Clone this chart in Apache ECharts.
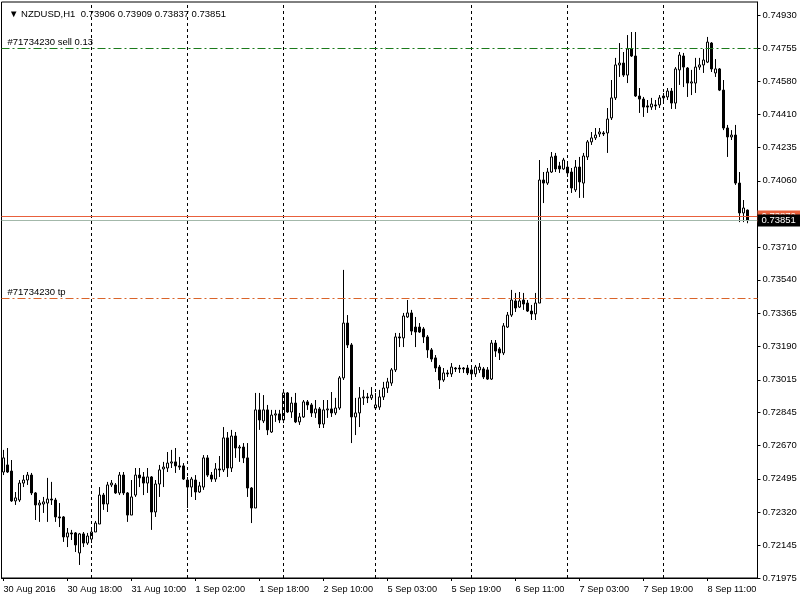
<!DOCTYPE html>
<html><head><meta charset="utf-8">
<script src="https://cdn.jsdelivr.net/npm/echarts@6/dist/echarts.min.js"></script>
<style>html,body{margin:0;padding:0;background:#fff}#c{width:800px;height:600px}</style>
</head><body><div id="c"></div>
<script>
const symbolName = 'NZDUSD,H1';
const year = '2016';
// trading days: [date, first hour, last hour]
const days = [['30 Aug',2,23],['31 Aug',0,23],['1 Sep',0,23],['2 Sep',0,22],['5 Sep',0,23],['6 Sep',0,23],['7 Sep',0,23],['8 Sep',0,21]];
const opens = [
0.72531,0.72568,0.72536,0.72379,0.72384,0.72473,0.72489,0.72515,0.72421,0.72358,
0.72363,0.72368,0.72389,0.72384,0.72295,0.72295,0.72190,0.72211,0.72211,0.72106,
0.72206,0.72158,0.72179,0.72216,0.72258,0.72410,0.72363,0.72463,0.72463,0.72421,
0.72515,0.72421,0.72305,0.72410,0.72515,0.72505,0.72473,0.72505,0.72321,0.72468,
0.72547,0.72552,0.72578,0.72584,0.72563,0.72563,0.72489,0.72452,0.72489,0.72426,
0.72452,0.72605,0.72515,0.72494,0.72547,0.72542,0.72710,0.72552,0.72720,0.72657,
0.72662,0.72605,0.72447,0.72342,0.72857,0.72799,0.72857,0.72741,0.72830,0.72836,
0.72804,0.72946,0.72846,0.72893,0.72794,0.72820,0.72899,0.72883,0.72841,0.72862,
0.72783,0.72857,0.72862,0.72841,0.72867,0.73025,0.73313,0.73198,0.72820,0.72841,
0.72920,0.72925,0.72920,0.72867,0.72872,0.72925,0.72972,0.72998,0.73067,0.73240,
0.73235,0.73345,0.73366,0.73292,0.73292,0.73282,0.73240,0.73172,0.73130,0.73082,
0.73014,0.73051,0.73046,0.73077,0.73077,0.73077,0.73077,0.73067,0.73046,0.73067,
0.73072,0.73067,0.73019,0.73208,0.73177,0.73156,0.73292,0.73355,0.73429,0.73397,
0.73434,0.73418,0.73376,0.73361,0.73418,0.74064,0.74048,0.74106,0.74190,0.74138,
0.74122,0.74132,0.74106,0.74012,0.74132,0.74048,0.74185,0.74264,0.74285,0.74306,
0.74311,0.74311,0.74390,0.74495,0.74668,0.74678,0.74615,0.74752,0.74715,0.74505,
0.74489,0.74453,0.74447,0.74458,0.74458,0.74495,0.74500,0.74531,0.74468,0.74642,
0.74715,0.74652,0.74573,0.74573,0.74657,0.74668,0.74683,0.74783,0.74626,0.74647,
0.74536,0.74337,0.74290,0.74300,0.74048,0.73891,0.73906];
const closes = [
0.72605,0.72531,0.72379,0.72395,0.72473,0.72489,0.72515,0.72421,0.72358,0.72368,
0.72374,0.72389,0.72384,0.72295,0.72290,0.72190,0.72211,0.72206,0.72148,0.72206,
0.72158,0.72195,0.72216,0.72263,0.72410,0.72363,0.72463,0.72473,0.72421,0.72515,
0.72421,0.72305,0.72400,0.72515,0.72500,0.72473,0.72505,0.72321,0.72468,0.72542,
0.72557,0.72578,0.72584,0.72563,0.72557,0.72494,0.72452,0.72494,0.72426,0.72458,
0.72605,0.72515,0.72494,0.72547,0.72542,0.72710,0.72552,0.72720,0.72657,0.72662,
0.72605,0.72447,0.72342,0.72857,0.72804,0.72857,0.72752,0.72830,0.72836,0.72804,
0.72946,0.72846,0.72893,0.72794,0.72820,0.72899,0.72883,0.72841,0.72862,0.72783,
0.72857,0.72862,0.72841,0.72867,0.73025,0.73313,0.73198,0.72820,0.72841,0.72920,
0.72925,0.72920,0.72935,0.72883,0.72925,0.72972,0.73004,0.73067,0.73240,0.73235,
0.73350,0.73366,0.73271,0.73266,0.73266,0.73240,0.73172,0.73124,0.73077,0.73014,
0.73051,0.73046,0.73082,0.73072,0.73072,0.73072,0.73051,0.73046,0.73082,0.73082,
0.73030,0.73019,0.73208,0.73166,0.73156,0.73298,0.73355,0.73434,0.73392,0.73429,
0.73413,0.73376,0.73361,0.73418,0.74064,0.74048,0.74106,0.74185,0.74122,0.74122,
0.74169,0.74101,0.74022,0.74132,0.74054,0.74190,0.74264,0.74285,0.74300,0.74316,
0.74306,0.74384,0.74495,0.74668,0.74678,0.74615,0.74752,0.74715,0.74505,0.74489,
0.74447,0.74447,0.74463,0.74453,0.74495,0.74505,0.74531,0.74468,0.74647,0.74720,
0.74657,0.74573,0.74579,0.74657,0.74668,0.74694,0.74788,0.74647,0.74647,0.74536,
0.74337,0.74290,0.74300,0.74048,0.73891,0.73917,0.73851];
const lows = [
0.72515,0.72526,0.72374,0.72358,0.72374,0.72452,0.72463,0.72410,0.72279,0.72269,
0.72316,0.72269,0.72358,0.72269,0.72242,0.72164,0.72137,0.72174,0.72111,0.72043,
0.72137,0.72148,0.72158,0.72216,0.72258,0.72332,0.72321,0.72452,0.72416,0.72410,
0.72410,0.72269,0.72305,0.72400,0.72452,0.72410,0.72421,0.72227,0.72295,0.72400,
0.72452,0.72531,0.72552,0.72526,0.72542,0.72489,0.72342,0.72400,0.72384,0.72421,
0.72437,0.72505,0.72479,0.72479,0.72505,0.72531,0.72505,0.72531,0.72605,0.72584,
0.72578,0.72400,0.72263,0.72342,0.72752,0.72788,0.72725,0.72736,0.72794,0.72788,
0.72788,0.72841,0.72815,0.72788,0.72778,0.72815,0.72857,0.72820,0.72815,0.72762,
0.72762,0.72815,0.72820,0.72830,0.72857,0.73014,0.73182,0.72683,0.72725,0.72767,
0.72883,0.72893,0.72909,0.72857,0.72857,0.72909,0.72946,0.72983,0.73056,0.73187,
0.73187,0.73340,0.73250,0.73187,0.73261,0.73208,0.73130,0.73109,0.73056,0.72967,
0.73004,0.73030,0.73030,0.73056,0.73051,0.73051,0.73040,0.73014,0.73030,0.73051,
0.73019,0.73014,0.73014,0.73135,0.73119,0.73145,0.73287,0.73345,0.73371,0.73392,
0.73382,0.73371,0.73329,0.73329,0.73418,0.73943,0.74038,0.74101,0.74106,0.74101,
0.74117,0.74080,0.73996,0.74001,0.73970,0.73970,0.74169,0.74248,0.74274,0.74290,
0.74295,0.74206,0.74379,0.74484,0.74605,0.74605,0.74573,0.74710,0.74500,0.74416,
0.74395,0.74416,0.74432,0.74432,0.74442,0.74468,0.74484,0.74437,0.74437,0.74563,
0.74552,0.74500,0.74510,0.74521,0.74642,0.74626,0.74678,0.74631,0.74605,0.74531,
0.74326,0.74185,0.74274,0.74038,0.73843,0.73843,0.73837];
const highs = [
0.72647,0.72657,0.72594,0.72426,0.72489,0.72515,0.72531,0.72526,0.72426,0.72384,
0.72400,0.72500,0.72479,0.72395,0.72368,0.72300,0.72237,0.72227,0.72216,0.72211,
0.72216,0.72211,0.72227,0.72274,0.72452,0.72421,0.72479,0.72489,0.72473,0.72531,
0.72531,0.72426,0.72489,0.72552,0.72552,0.72531,0.72552,0.72510,0.72489,0.72568,
0.72584,0.72636,0.72647,0.72657,0.72610,0.72578,0.72505,0.72505,0.72515,0.72479,
0.72620,0.72620,0.72531,0.72578,0.72615,0.72767,0.72741,0.72752,0.72741,0.72673,
0.72683,0.72683,0.72452,0.72946,0.72946,0.72935,0.72883,0.72857,0.72857,0.72857,
0.72951,0.72951,0.72925,0.72946,0.72841,0.72909,0.72909,0.72893,0.72909,0.72872,
0.72909,0.72909,0.72951,0.72920,0.73035,0.73592,0.73355,0.73208,0.72920,0.72977,
0.72962,0.72946,0.72977,0.72946,0.72962,0.73004,0.73025,0.73077,0.73261,0.73261,
0.73366,0.73434,0.73382,0.73345,0.73313,0.73292,0.73250,0.73182,0.73145,0.73093,
0.73077,0.73067,0.73103,0.73082,0.73093,0.73082,0.73093,0.73082,0.73093,0.73103,
0.73082,0.73082,0.73224,0.73224,0.73187,0.73313,0.73371,0.73487,0.73471,0.73476,
0.73471,0.73434,0.73408,0.73471,0.74169,0.74106,0.74127,0.74211,0.74206,0.74159,
0.74180,0.74153,0.74127,0.74169,0.74185,0.74206,0.74274,0.74316,0.74337,0.74337,
0.74321,0.74442,0.74589,0.74705,0.74783,0.74736,0.74825,0.74841,0.74841,0.74547,
0.74500,0.74484,0.74495,0.74484,0.74510,0.74521,0.74547,0.74547,0.74657,0.74736,
0.74731,0.74657,0.74642,0.74705,0.74705,0.74752,0.74815,0.74788,0.74699,0.74652,
0.74589,0.74353,0.74326,0.74353,0.74106,0.73959,0.73909];
const yTickLabels = [0.74930,0.74755,0.74580,0.74410,0.74235,0.74060,0.73885,0.73710,0.73540,0.73365,0.73190,0.73015,0.72845,0.72670,0.72495,0.72320,0.72145,0.71975];
const orderId = '#71734230';
const sellPrice = 0.74754, sellLots = '0.13';
const tpPrice = 0.73442;
const askPrice = 0.73872;
const bidPrice = 0.73851;

const FONT = "'Liberation Sans',Arial,sans-serif";
const pad = n => (n < 10 ? '0' : '') + n;
const cats = [];
const dayStarts = [];
days.forEach(([d, h0, h1]) => {
  for (let h = h0; h <= h1; h++) {
    const s = d + ' ' + pad(h) + ':00';
    if (h === 0) dayStarts.push(s);
    cats.push(s);
  }
});
const nBars = cats.length;
cats.push(' ', '  '); // empty right margin (chart shift)
const candleData = opens.map((o, i) => [o, closes[i], lows[i], highs[i]]);
const last = candleData.length - 1;
const header = '\u25BC ' + symbolName + '  ' + [opens[last], highs[last], lows[last], closes[last]].map(v => v.toFixed(5)).join(' ');
const labelEvery = (i) => i < nBars && i % 16 === 0;

const chart = echarts.init(document.getElementById('c'), null, {renderer: 'canvas'});
chart.setOption({
  animation: false,
  backgroundColor: '#fff',
  textStyle: {fontFamily: FONT},
  title: {text: header, left: 4, top: 4, textStyle: {fontSize: 9.5, fontWeight: 'normal', color: '#000', fontFamily: FONT}},
  grid: {left: 1.5, right: 42.5, top: 2, bottom: 22, outerBoundsMode: 'none', containLabel: false, show: true, borderColor: '#000', borderWidth: 1, backgroundColor: '#fff'},
  xAxis: {
    type: 'category', data: cats, boundaryGap: true,
    axisLine: {show: true, onZero: false, lineStyle: {color: '#000', width: 1}},
    axisTick: {show: true, alignWithLabel: true, interval: labelEvery, length: 3, lineStyle: {color: '#000'}},
    axisLabel: {
      show: true, interval: labelEvery, align: 'left', margin: 7, color: '#000', fontSize: 9.2, fontFamily: FONT, hideOverlap: false,
      formatter: (v, i) => i === 0 ? days[0][0] + ' ' + year : v
    },
    splitLine: {show: false}
  },
  yAxis: {
    type: 'value', position: 'right', scale: true, min: 0.719745, max: 0.749985,
    axisLine: {show: true, lineStyle: {color: '#000', width: 1}},
    axisTick: {show: true, length: 3, lineStyle: {color: '#000'}, customValues: yTickLabels},
    axisLabel: {show: true, margin: 5, color: '#000', fontSize: 9.5, fontFamily: FONT, customValues: yTickLabels, formatter: v => v.toFixed(5)},
    splitLine: {show: false}
  },
  series: [{
    type: 'candlestick',
    data: candleData,
    barWidth: 2,
    z: 3,
    itemStyle: {color: '#fff', color0: '#000', borderColor: '#000', borderColor0: '#000', borderColorDoji: '#000', borderWidth: 1}
  }, {
    type: 'line',
    data: [],
    silent: true,
    z: 2,
    markLine: {
      silent: true, symbol: ['none', 'none'], animation: false, precision: 5,
      data: [
        ...dayStarts.map(s => ({xAxis: s, lineStyle: {color: '#000', type: [3, 3], width: 1}, label: {show: false}})),
        {yAxis: sellPrice, lineStyle: {color: '#1c7a1c', type: [8, 3, 2, 3], width: 1},
          label: {show: true, position: 'insideStartTop', distance: [6, 1], formatter: orderId + ' sell ' + sellLots, color: '#000', fontSize: 9.5, fontFamily: FONT}},
        {yAxis: tpPrice, lineStyle: {color: '#d9642a', type: [8, 3, 2, 3], width: 1},
          label: {show: true, position: 'insideStartTop', distance: [6, 1], formatter: orderId + ' tp', color: '#000', fontSize: 9.5, fontFamily: FONT}},
        {yAxis: askPrice, lineStyle: {color: '#e8603c', type: 'solid', width: 1},
          label: {show: true, position: 'end', distance: 0, formatter: askPrice.toFixed(5), color: '#fff', backgroundColor: '#e8603c', padding: [1, 6, 1, 4], fontSize: 9.5, fontFamily: FONT}},
        {yAxis: bidPrice, lineStyle: {color: '#a3b8aa', type: 'solid', width: 1},
          label: {show: true, position: 'end', distance: 0, formatter: bidPrice.toFixed(5), color: '#fff', backgroundColor: '#000', padding: [1, 6, 1, 4], fontSize: 9.5, fontFamily: FONT}}
      ]
    }
  }]
});
</script>
</body></html>
